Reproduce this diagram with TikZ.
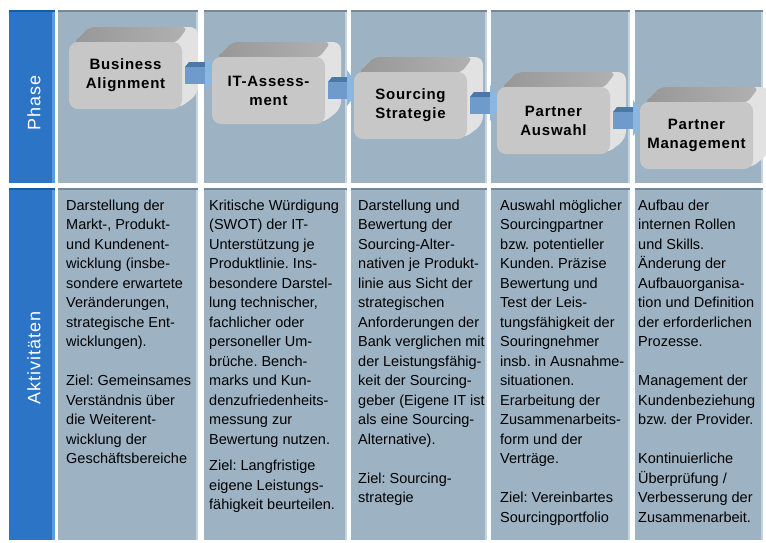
\documentclass[tikz,border=0pt]{standalone}
\usepackage{fontspec}
\setmainfont{Liberation Sans}
\newfontfamily\boxfont[LetterSpace=5]{Liberation Sans}
\newfontfamily\sidefont[LetterSpace=6]{Liberation Sans}
\usetikzlibrary{calc}
\pgfdeclarelayer{bg}
\pgfdeclarelayer{back}
\pgfdeclarelayer{mid}
\pgfsetlayers{bg,back,mid,main}
\definecolor{panelfill}{HTML}{9DB3C3}
\definecolor{paneledge}{HTML}{74889A}
\definecolor{panellight}{HTML}{C4D4E0}
\definecolor{sideblue}{HTML}{2C74C6}
\definecolor{sidelight}{HTML}{5A9BE2}
\definecolor{sidedark}{HTML}{1C5AA0}
\definecolor{frontgray}{HTML}{C7C7C7}
\definecolor{topgray}{HTML}{979797}
\definecolor{sidegray}{HTML}{E2E2E2}
\definecolor{arrfront}{HTML}{6E9BCC}
\definecolor{arrtop}{HTML}{4C78A6}
\definecolor{arrhead}{HTML}{8CB6E2}
\tikzset{
  panel/.style={fill=panelfill},
  phasebox/.style={fill=frontgray, rounded corners=9pt, minimum width=113pt,
    minimum height=67pt, inner sep=0pt, outer sep=0pt, anchor=north west,
    align=center, font=\boxfont\bfseries\fontsize{15}{19}\selectfont},
  body/.style={anchor=north west, align=left, inner sep=0pt,
    font=\frenchspacing\fontsize{14.5}{19.5}\selectfont},
  sidelabel/.style={rotate=90, text=white, inner sep=0pt,
    font=\sidefont\fontsize{18}{20}\selectfont},
}
\newcommand\boxfaces[1]{%
  \fill[sidegray, rounded corners=8pt] ($(#1.north west)+(4,1)$) -- ($(#1.north west)+(20,-15)$)
    -- ($(#1.north east)+(16,-15)$) -- ($(#1.south east)+(16,-15)$) -- ($(#1.south east)+(-4,0)$) -- cycle;
  \shade[left color=topgray, right color=topgray!75!white, rounded corners=6pt]
    ($(#1.north west)+(4,1)$) -- ($(#1.north west)+(20,-15)$)
    -- ($(#1.north east)+(6,-15)$) -- ($(#1.north east)+(-6,1)$) -- cycle;
}
\newcommand\blockarrow[2]{%
  \fill[arrtop] ($(#1.north east)+(3,25)$) -- ($(#1.north east)+(7,20)$)
    -- ($(#2.west |- #1.north)+(-3,20)$) -- ($(#2.west |- #1.north)+(-7,25)$) -- cycle;
  \fill[arrfront] ($(#1.north east)+(3,25)$) rectangle ($(#2.west |- #1.north)+(-7,42)$);
  \fill[arrhead] ($(#2.west |- #1.north)+(-7,13)$) -- ($(#2.west |- #1.north)+(6,32)$)
    -- ($(#2.west |- #1.north)+(-7,49)$) -- cycle;
}
\begin{document}
\begin{tikzpicture}[x=1pt,y=-1pt]
\useasboundingbox (0,0) rectangle (766,542);
\begin{pgfonlayer}{bg}
  \fill[white] (0,0) rectangle (766,542);
  \foreach \a/\b in {58/198,204/347,351/487,491/630,635/763}{
    \fill[panel] (\a,10) rectangle (\b,183);
    \fill[panel] (\a,188) rectangle (\b,540);
    \fill[paneledge] (\a,10) rectangle (\b,12);
    \fill[paneledge] (\a,188) rectangle (\b,190);
    \fill[panellight] (\b-2,12) rectangle (\b,183);
    \fill[panellight] (\b-2,190) rectangle (\b,540);
  }
  \foreach \t/\u in {10/183,188/540}{
    \fill[sideblue] (9,\t) rectangle (55,\u);
    \fill[sidelight] (52,\t+2) rectangle (55,\u);
    \fill[sidedark] (9,\t) rectangle (55,\t+2);
  }
\end{pgfonlayer}

\node[sidelabel] (phase) at (34,103) {Phase};
\node[sidelabel] (akt) at (34,358) {Aktivitäten};

\node[phasebox] (b1) at (69,42) {Business\\Alignment};
\node[phasebox] (b2) at (212,57) {IT-Assess-\\ment};
\node[phasebox] (b3) at (354,72) {Sourcing\\Strategie};
\node[phasebox] (b4) at (497,87) {Partner\\Auswahl};
\node[phasebox] (b5) at (640,102) {Partner\\Management};

\begin{pgfonlayer}{back}
  \boxfaces{b1}\boxfaces{b2}\boxfaces{b3}\boxfaces{b4}\boxfaces{b5}
\end{pgfonlayer}
\begin{pgfonlayer}{mid}
  \blockarrow{b1}{b2}\blockarrow{b2}{b3}\blockarrow{b3}{b4}\blockarrow{b4}{b5}
\end{pgfonlayer}

\node[body] (t1) at (66,199.5) {Darstellung der\\Markt-, Produkt-\\und Kundenent-\\wicklung (insbe-\\sondere erwartete\\Veränderungen,\\strategische Ent-\\wicklungen).\\[19.5pt]Ziel: Gemeinsames\\Verständnis über\\die Weiterent-\\wicklung der\\Geschäftsbereiche};
\node[body] (t2) at (209,199.5) {Kritische Würdigung\\(SWOT) der IT-\\Unterstützung je\\Produktlinie. Ins-\\besondere Darstel-\\lung technischer,\\fachlicher oder\\personeller Um-\\brüche. Bench-\\marks und Kun-\\denzufriedenheits-\\messung zur\\Bewertung nutzen.\\[7pt]Ziel: Langfristige\\eigene Leistungs-\\fähigkeit beurteilen.};
\node[body] (t3) at (358,199.5) {Darstellung und\\Bewertung der\\Sourcing-Alter-\\nativen je Produkt-\\linie aus Sicht der\\strategischen\\Anforderungen der\\Bank verglichen mit\\der Leistungsfähig-\\keit der Sourcing-\\geber (Eigene IT ist\\als eine Sourcing-\\Alternative).\\[19.5pt]Ziel: Sourcing-\\strategie};
\node[body] (t4) at (500,199.5) {Auswahl möglicher\\Sourcingpartner\\bzw. potentieller\\Kunden. Präzise\\Bewertung und\\Test der Leis-\\tungsfähigkeit der\\Souringnehmer\\insb. in Ausnahme-\\situationen.\\Erarbeitung der\\Zusammenarbeits-\\form und der\\Verträge.\\[19.5pt]Ziel: Vereinbartes\\Sourcingportfolio};
\node[body] (t5) at (638,199.5) {Aufbau der\\internen Rollen\\und Skills.\\Änderung der\\Aufbauorganisa-\\tion und Definition\\der erforderlichen\\Prozesse.\\[19.5pt]Management der\\Kundenbeziehung\\bzw. der Provider.\\[19.5pt]Kontinuierliche\\Überprüfung /\\Verbesserung der\\Zusammenarbeit.};
\end{tikzpicture}
\end{document}
